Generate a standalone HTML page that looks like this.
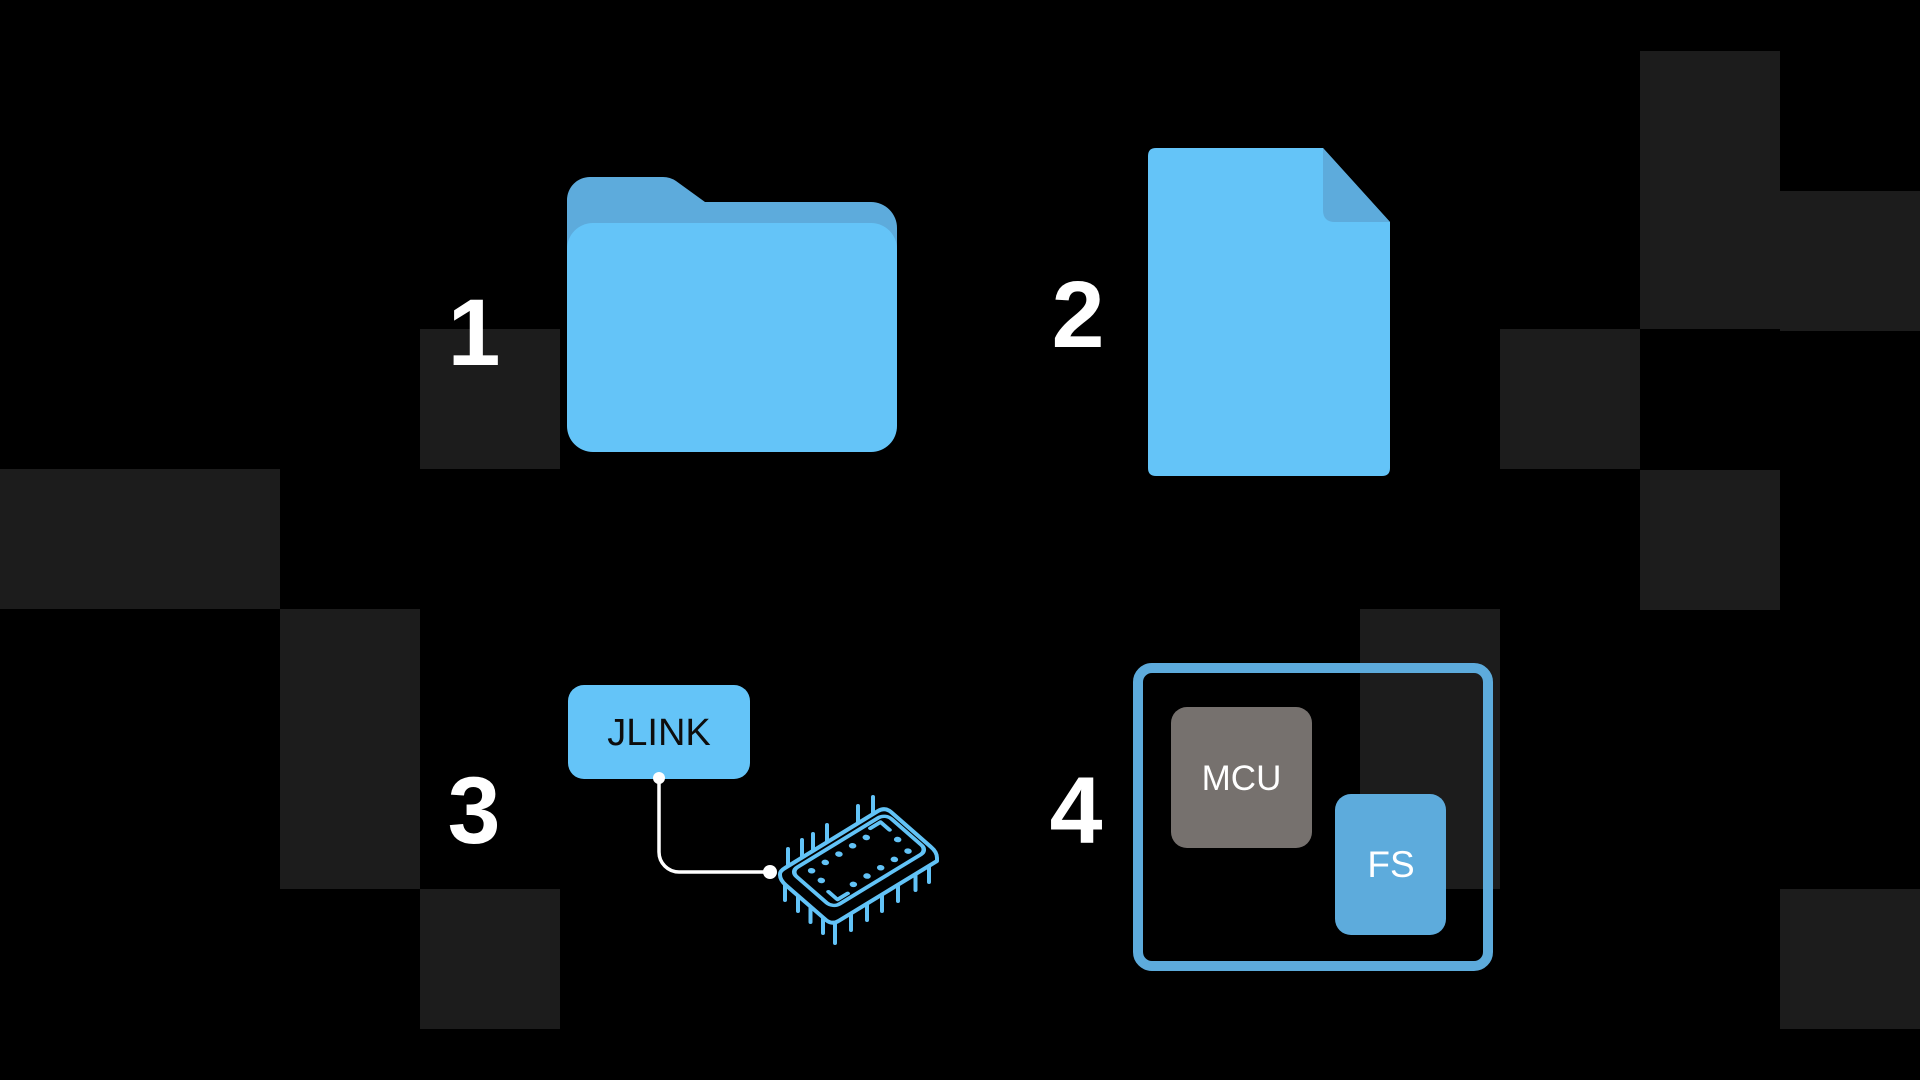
<!DOCTYPE html>
<html>
<head>
<meta charset="utf-8">
<style>
  html, body { margin:0; padding:0; background:#000; }
  body { width:1920px; height:1080px; overflow:hidden; }
  svg { display:block; }
</style>
</head>
<body>
<svg width="1920" height="1080" viewBox="0 0 1920 1080" xmlns="http://www.w3.org/2000/svg">
  <rect x="0" y="0" width="1920" height="1080" fill="#000"/>

  <!-- background grid squares -->
  <g fill="#1c1c1c">
    <rect x="420" y="329" width="140" height="140"/>
    <rect x="0" y="469" width="280" height="140"/>
    <rect x="280" y="609" width="140" height="280"/>
    <rect x="420" y="889" width="140" height="140"/>
    <rect x="1640" y="51" width="140" height="278"/>
    <rect x="1780" y="191" width="140" height="140"/>
    <rect x="1500" y="329" width="140" height="140"/>
    <rect x="1640" y="470" width="140" height="140"/>
    <rect x="1360" y="609" width="140" height="280"/>
    <rect x="1780" y="889" width="140" height="140"/>
  </g>

  <!-- numbers -->
  <g font-family="Liberation Sans, Arial, sans-serif" font-weight="bold" font-size="95" fill="#fff" text-anchor="middle">
    <text x="474" y="365">1</text>
    <text x="1078" y="347">2</text>
    <text x="474" y="843">3</text>
    <text x="1076" y="843">4</text>
  </g>

  <!-- folder -->
  <path d="M567,300 L567,200 A23,23 0 0 1 590,177 L663,177 Q670,177 676,181 L705,202 L871,202 A26,26 0 0 1 897,228 L897,300 Z" fill="#5dabdc"/>
  <rect x="567" y="223" width="330" height="229" rx="26" ry="26" fill="#64c4f8"/>

  <!-- file -->
  <path d="M1156,148 L1323,148 L1390,222 L1390,468 Q1390,476 1382,476 L1156,476 Q1148,476 1148,468 L1148,156 Q1148,148 1156,148 Z" fill="#64c4f8"/>
  <path d="M1323,148 L1390,222 L1335,222 Q1323,222 1323,210 Z" fill="#5dabdc"/>

  <!-- JLINK -->
  <rect x="568" y="685" width="182" height="94" rx="16" ry="16" fill="#64c4f8"/>
  <text x="659" y="745" font-family="Liberation Sans, Arial, sans-serif" font-size="38" fill="#0d0d0d" text-anchor="middle">JLINK</text>

  <!-- connector -->
  <path d="M659,779 L659,852 A20,20 0 0 0 679,872 L770,872" fill="none" stroke="#fff" stroke-width="3.5"/>
  <circle cx="659" cy="778" r="6" fill="#fff"/>
  <circle cx="770" cy="872" r="7" fill="#fff"/>

  <!-- chip -->
  <g stroke="#62c3f7" stroke-width="4" stroke-linecap="round" stroke-linejoin="round" fill="none">
    <!-- top pins -->
    <line x1="788" y1="871" x2="788" y2="849"/>
    <line x1="802" y1="862" x2="802" y2="840"/>
    <line x1="813" y1="856" x2="813" y2="834"/>
    <line x1="827" y1="847" x2="827" y2="825"/>
    <line x1="858" y1="828" x2="858" y2="806"/>
    <line x1="873" y1="819" x2="873" y2="797"/>
    <!-- bottom pins -->
    <line x1="785" y1="875" x2="785" y2="900"/>
    <line x1="798" y1="886" x2="798" y2="911"/>
    <line x1="810.5" y1="897" x2="810.5" y2="922"/>
    <line x1="823" y1="908" x2="823" y2="933"/>
    <line x1="835" y1="914" x2="835" y2="943"/>
    <line x1="851" y1="904" x2="851" y2="930"/>
    <line x1="867" y1="894" x2="867" y2="920"/>
    <line x1="882" y1="885" x2="882" y2="911"/>
    <line x1="898" y1="875" x2="898" y2="901"/>
    <line x1="915.5" y1="864" x2="915.5" y2="890"/>
    <line x1="929" y1="856" x2="929" y2="882"/>
    <!-- body silhouette -->
    <path d="M785,868 L878,811 Q885,807 891,812 L931,847 Q937,852 937,858 L937,861 L838.8,920.8 Q832,925 826,920 L786,885.3 Q780,880 780,875 L780,874 Q780,871 785,868 Z" fill="#000"/>
    <!-- inner top face details -->
    <g transform="matrix(0.854,-0.520,0.754,0.657,780,871)">
      <rect x="7" y="6" width="111" height="56" rx="8" ry="8"/>
      <path d="M96,11 L108,11 L108,23"/>
      <path d="M29,57 L17,57 L17,45"/>
      <g fill="#62c3f7" stroke="none">
        <circle cx="22" cy="17" r="3.3"/>
        <circle cx="38" cy="17" r="3.3"/>
        <circle cx="54" cy="17" r="3.3"/>
        <circle cx="70" cy="17" r="3.3"/>
        <circle cx="86" cy="17" r="3.3"/>
        <circle cx="21" cy="31" r="3.3"/>
        <circle cx="40" cy="52" r="3.3"/>
        <circle cx="56" cy="52" r="3.3"/>
        <circle cx="72" cy="52" r="3.3"/>
        <circle cx="88" cy="52" r="3.3"/>
        <circle cx="104" cy="52" r="3.3"/>
        <circle cx="106" cy="36" r="3.3"/>
      </g>
    </g>
  </g>

  <!-- box 4 -->
  <rect x="1138" y="668" width="350" height="298" rx="14" ry="14" fill="none" stroke="#5dabdc" stroke-width="10"/>
  <rect x="1171" y="707" width="141" height="141" rx="16" ry="16" fill="#76716e"/>
  <text x="1241.5" y="790" font-family="Liberation Sans, Arial, sans-serif" font-size="35" fill="#fff" text-anchor="middle">MCU</text>
  <rect x="1335" y="794" width="111" height="141" rx="16" ry="16" fill="#5dabdc"/>
  <text x="1391" y="877" font-family="Liberation Sans, Arial, sans-serif" font-size="37" fill="#fff" text-anchor="middle">FS</text>
</svg>
</body>
</html>
